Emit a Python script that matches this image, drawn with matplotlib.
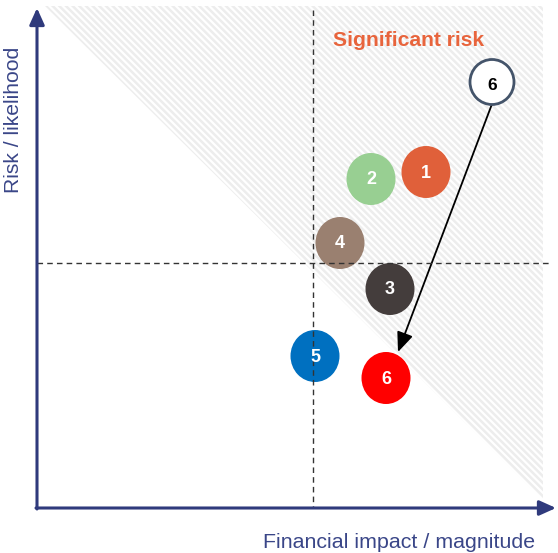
import matplotlib
matplotlib.use("Agg")
import matplotlib.pyplot as plt
from matplotlib.patches import Ellipse, Polygon, FancyArrowPatch

plt.rcParams['font.family'] = ['Liberation Sans', 'DejaVu Sans']
plt.rcParams['hatch.linewidth'] = 1.8

# Data (pixel-like coordinates of the canvas: x right, y down)
labels = ['1', '2', '3', '4', '5', '6']
xs = [426, 371, 390, 340, 315, 386]
ys = [172, 179, 289, 243, 356, 378]
colors = ['#E0603A', '#98CF92', '#443D3C', '#9A8070', '#0070C0', '#FF0000']
prev_label = '6'
prev_x, prev_y = 492, 82

origin = (37, 508)
x_end, y_end = 556, 8
quad_x, quad_y = 313, 263

fig = plt.figure(figsize=(5.58, 5.53), dpi=100)
ax = fig.add_axes([0, 0, 1, 1])
ax.set_xlim(0, 558)
ax.set_ylim(553, 0)
ax.axis('off')

# hatched significant-risk triangle
tri = Polygon([(45, 6), (543, 6), (543, 500)], closed=True,
              facecolor='white', edgecolor='#EDEDED', hatch='\\\\\\\\\\', linewidth=0)
ax.add_patch(tri)

# dashed quadrant lines
ax.plot([quad_x, quad_x], [10, origin[1]], ls=(0, (4, 3)), color='#333333', lw=1)
ax.plot([origin[0], x_end - 5], [quad_y, quad_y], ls=(0, (4, 3)), color='#333333', lw=1)

# axes arrows
axcol = '#2F3A7C'
ax.annotate('', xy=(origin[0], y_end), xytext=(origin[0], origin[1] + 1),
            arrowprops=dict(arrowstyle='-|>,head_width=0.45,head_length=1.0', color=axcol, lw=2.2, shrinkA=0, shrinkB=0))
ax.annotate('', xy=(x_end, origin[1]), xytext=(origin[0] - 1, origin[1]),
            arrowprops=dict(arrowstyle='-|>,head_width=0.45,head_length=1.0', color=axcol, lw=2.2, shrinkA=0, shrinkB=0))

ax.text(14, 120, 'Risk / likelihood', rotation=90, ha='center', va='center',
        fontsize=15.2, color='#3A4688')
ax.text(399, 543, 'Financial impact / magnitude', ha='center', va='center',
        fontsize=15.4, color='#3A4688')
ax.text(409, 40, 'Significant risk', ha='center', va='center',
        fontsize=15.2, fontweight='bold', color='#E8643C')

# arrow from previous position to current 6
ax.add_patch(FancyArrowPatch((prev_x, prev_y + 22), (398, 352),
                             arrowstyle='-|>,head_width=5,head_length=12',
                             color='black', lw=1.3, shrinkA=0, shrinkB=0, mutation_scale=1))

# previous position bubble
ax.add_patch(Ellipse((prev_x, prev_y), 44, 45, facecolor='white', edgecolor='#44546A', lw=2))
ax.text(prev_x, prev_y + 4, prev_label, ha='center', va='center', fontsize=12.5,
        fontweight='bold', color='black')

for lab, x, y, c in zip(labels, xs, ys, colors):
    ax.add_patch(Ellipse((x, y), 49, 52, facecolor=c, edgecolor='none'))
    ax.text(x, y + 1, lab, ha='center', va='center', fontsize=13,
            fontweight='bold', color='white')

fig.savefig('out.png', dpi=100)
